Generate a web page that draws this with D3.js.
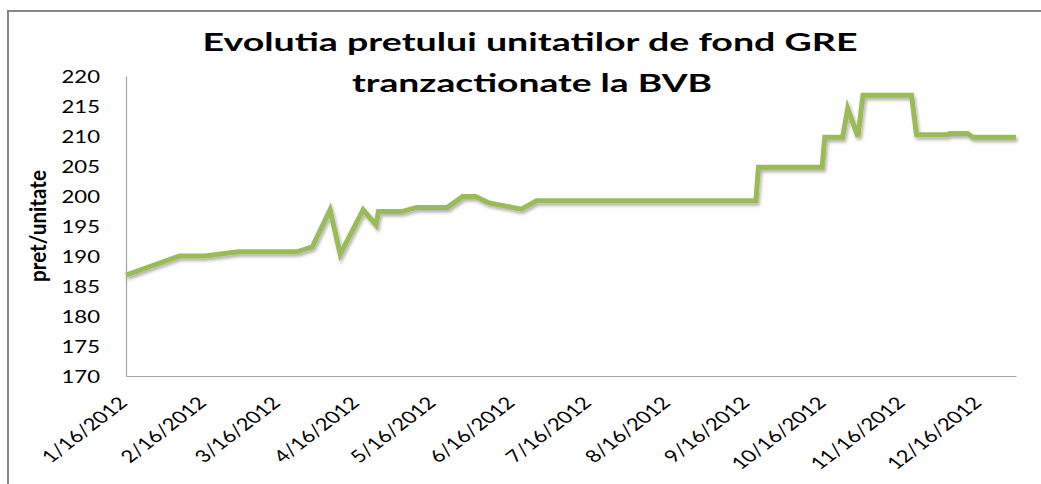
<!DOCTYPE html>
<html>
<head>
<meta charset="utf-8">
<script src="https://cdn.jsdelivr.net/npm/d3@7"></script>
<style>
  body { margin: 0; background: #fff; }
  svg { display: block; }
  text { font-family: Lato, "Open Sans", sans-serif; fill: #000; }
</style>
</head>
<body>
<svg width="1041" height="484"></svg>
<script>
// data (date, pret/unitate)
var dates = ["2012-01-16", "2012-02-06", "2012-02-16", "2012-02-29", "2012-03-23", "2012-03-29",
  "2012-04-05", "2012-04-09", "2012-04-18", "2012-04-23", "2012-04-24", "2012-05-03",
  "2012-05-09", "2012-05-21", "2012-05-27", "2012-06-01", "2012-06-06", "2012-06-19",
  "2012-06-25", "2012-09-19", "2012-09-20", "2012-10-15", "2012-10-16", "2012-10-23",
  "2012-10-25", "2012-10-29", "2012-10-31", "2012-11-19", "2012-11-21", "2012-12-03",
  "2012-12-04", "2012-12-11", "2012-12-13", "2012-12-30"];
var prices = [186.8, 190.0, 190.0, 190.7, 190.7, 191.5,
  197.7, 190.3, 197.7, 195.2, 197.4, 197.4,
  198.1, 198.1, 199.9, 199.9, 198.9, 197.8,
  199.2, 199.2, 204.8, 204.8, 209.8, 209.8,
  214.6, 209.9, 216.8, 216.8, 210.2, 210.2,
  210.4, 210.4, 209.8, 209.8];
var tickDates = ["2012-01-16", "2012-02-16", "2012-03-16", "2012-04-16", "2012-05-16", "2012-06-16",
  "2012-07-16", "2012-08-16", "2012-09-16", "2012-10-16", "2012-11-16", "2012-12-16"];
var yTicks = [170, 175, 180, 185, 190, 195, 200, 205, 210, 215, 220];
var titleLines = ["Evolutia pretului unitatilor de fond GRE", "tranzactionate la BVB"];
var yTitle = "pret/unitate";

var parse = d3.timeParse("%Y-%m-%d");
var data = dates.map(function (d, i) { return { date: parse(d), value: prices[i] }; });

var plot = { left: 126, right: 1016, top: 76, bottom: 376 };
var sx = 1.3; // the chart image is stretched sideways

var svg = d3.select("svg");

// outer frame
svg.append("rect")
  .attr("x", 8).attr("y", 11)
  .attr("width", 1200).attr("height", 600)
  .attr("fill", "none")
  .attr("stroke", "#878787")
  .attr("stroke-width", 2);

var defs = svg.append("defs");
var f = defs.append("filter").attr("id", "shadow")
  .attr("x", "-5%").attr("y", "-20%").attr("width", "110%").attr("height", "140%");
f.append("feDropShadow")
  .attr("dx", 1.5).attr("dy", 2.5)
  .attr("stdDeviation", 1.4)
  .attr("flood-color", "#000")
  .attr("flood-opacity", 0.3);

var x = d3.scaleTime()
  .domain([parse("2012-01-16"), parse("2012-12-30")])
  .range([plot.left, plot.right]);

var y = d3.scaleLinear()
  .domain([170, 220])
  .range([plot.bottom, plot.top]);

// title
var title = svg.append("g");
title.selectAll("text")
  .data(titleLines)
  .enter().append("text")
  .attr("x", function (d, i) { return i == 0 ? 530 : 532; })
  .attr("y", function (d, i) { return i == 0 ? 51 : 92; })
  .attr("text-anchor", "middle")
  .attr("font-size", 25)
  .attr("font-weight", "bold")
  .attr("textLength", function (d, i) { return i == 0 ? 655 : 360; })
  .attr("lengthAdjust", "spacingAndGlyphs")
  .text(function (d) { return d; });

// y axis
var yAxis = svg.append("g")
  .attr("transform", "translate(" + plot.left + ",0)")
  .call(d3.axisLeft(y).tickValues(yTicks).tickSize(0).tickFormat(d3.format("d")));
yAxis.select(".domain").attr("stroke", "#a6a6a6").attr("stroke-width", 1.2);
yAxis.selectAll("text")
  .attr("x", 0).attr("dy", "0.36em")
  .attr("transform", "translate(-26,0) scale(" + sx + ",1)")
  .attr("text-anchor", "end")
  .style("font-family", "Lato, sans-serif")
  .style("font-size", "17px")
  .style("fill", "#000");

// x axis
var xAxis = svg.append("g")
  .attr("transform", "translate(0," + plot.bottom + ")")
  .call(d3.axisBottom(x)
    .tickValues(tickDates.map(parse))
    .tickSize(0)
    .tickFormat(d3.timeFormat("%-m/%-d/%Y")));
xAxis.select(".domain").attr("stroke", "#a6a6a6").attr("stroke-width", 1.2);
xAxis.selectAll("text")
  .attr("x", 0).attr("y", 0).attr("dy", 0)
  .attr("transform", "translate(2,28) scale(" + sx + ",1) rotate(-45)")
  .attr("text-anchor", "end")
  .style("font-family", "Lato, sans-serif")
  .style("font-size", "17px")
  .style("fill", "#000");

// y axis title
svg.append("text")
  .attr("transform", "translate(46,226) scale(" + sx + ",1) rotate(-90)")
  .attr("text-anchor", "middle")
  .attr("font-size", 17)
  .attr("font-weight", "bold")
  .attr("textLength", 112)
  .attr("lengthAdjust", "spacingAndGlyphs")
  .text(yTitle);

// the price line
var line = d3.line()
  .x(function (d) { return x(d.date); })
  .y(function (d) { return y(d.value); });

svg.append("path")
  .datum(data)
  .attr("d", line)
  .attr("fill", "none")
  .attr("stroke", "#9bbb59")
  .attr("stroke-width", 5)
  .attr("stroke-linejoin", "miter")
  .attr("filter", "url(#shadow)");
</script>
</body>
</html>
